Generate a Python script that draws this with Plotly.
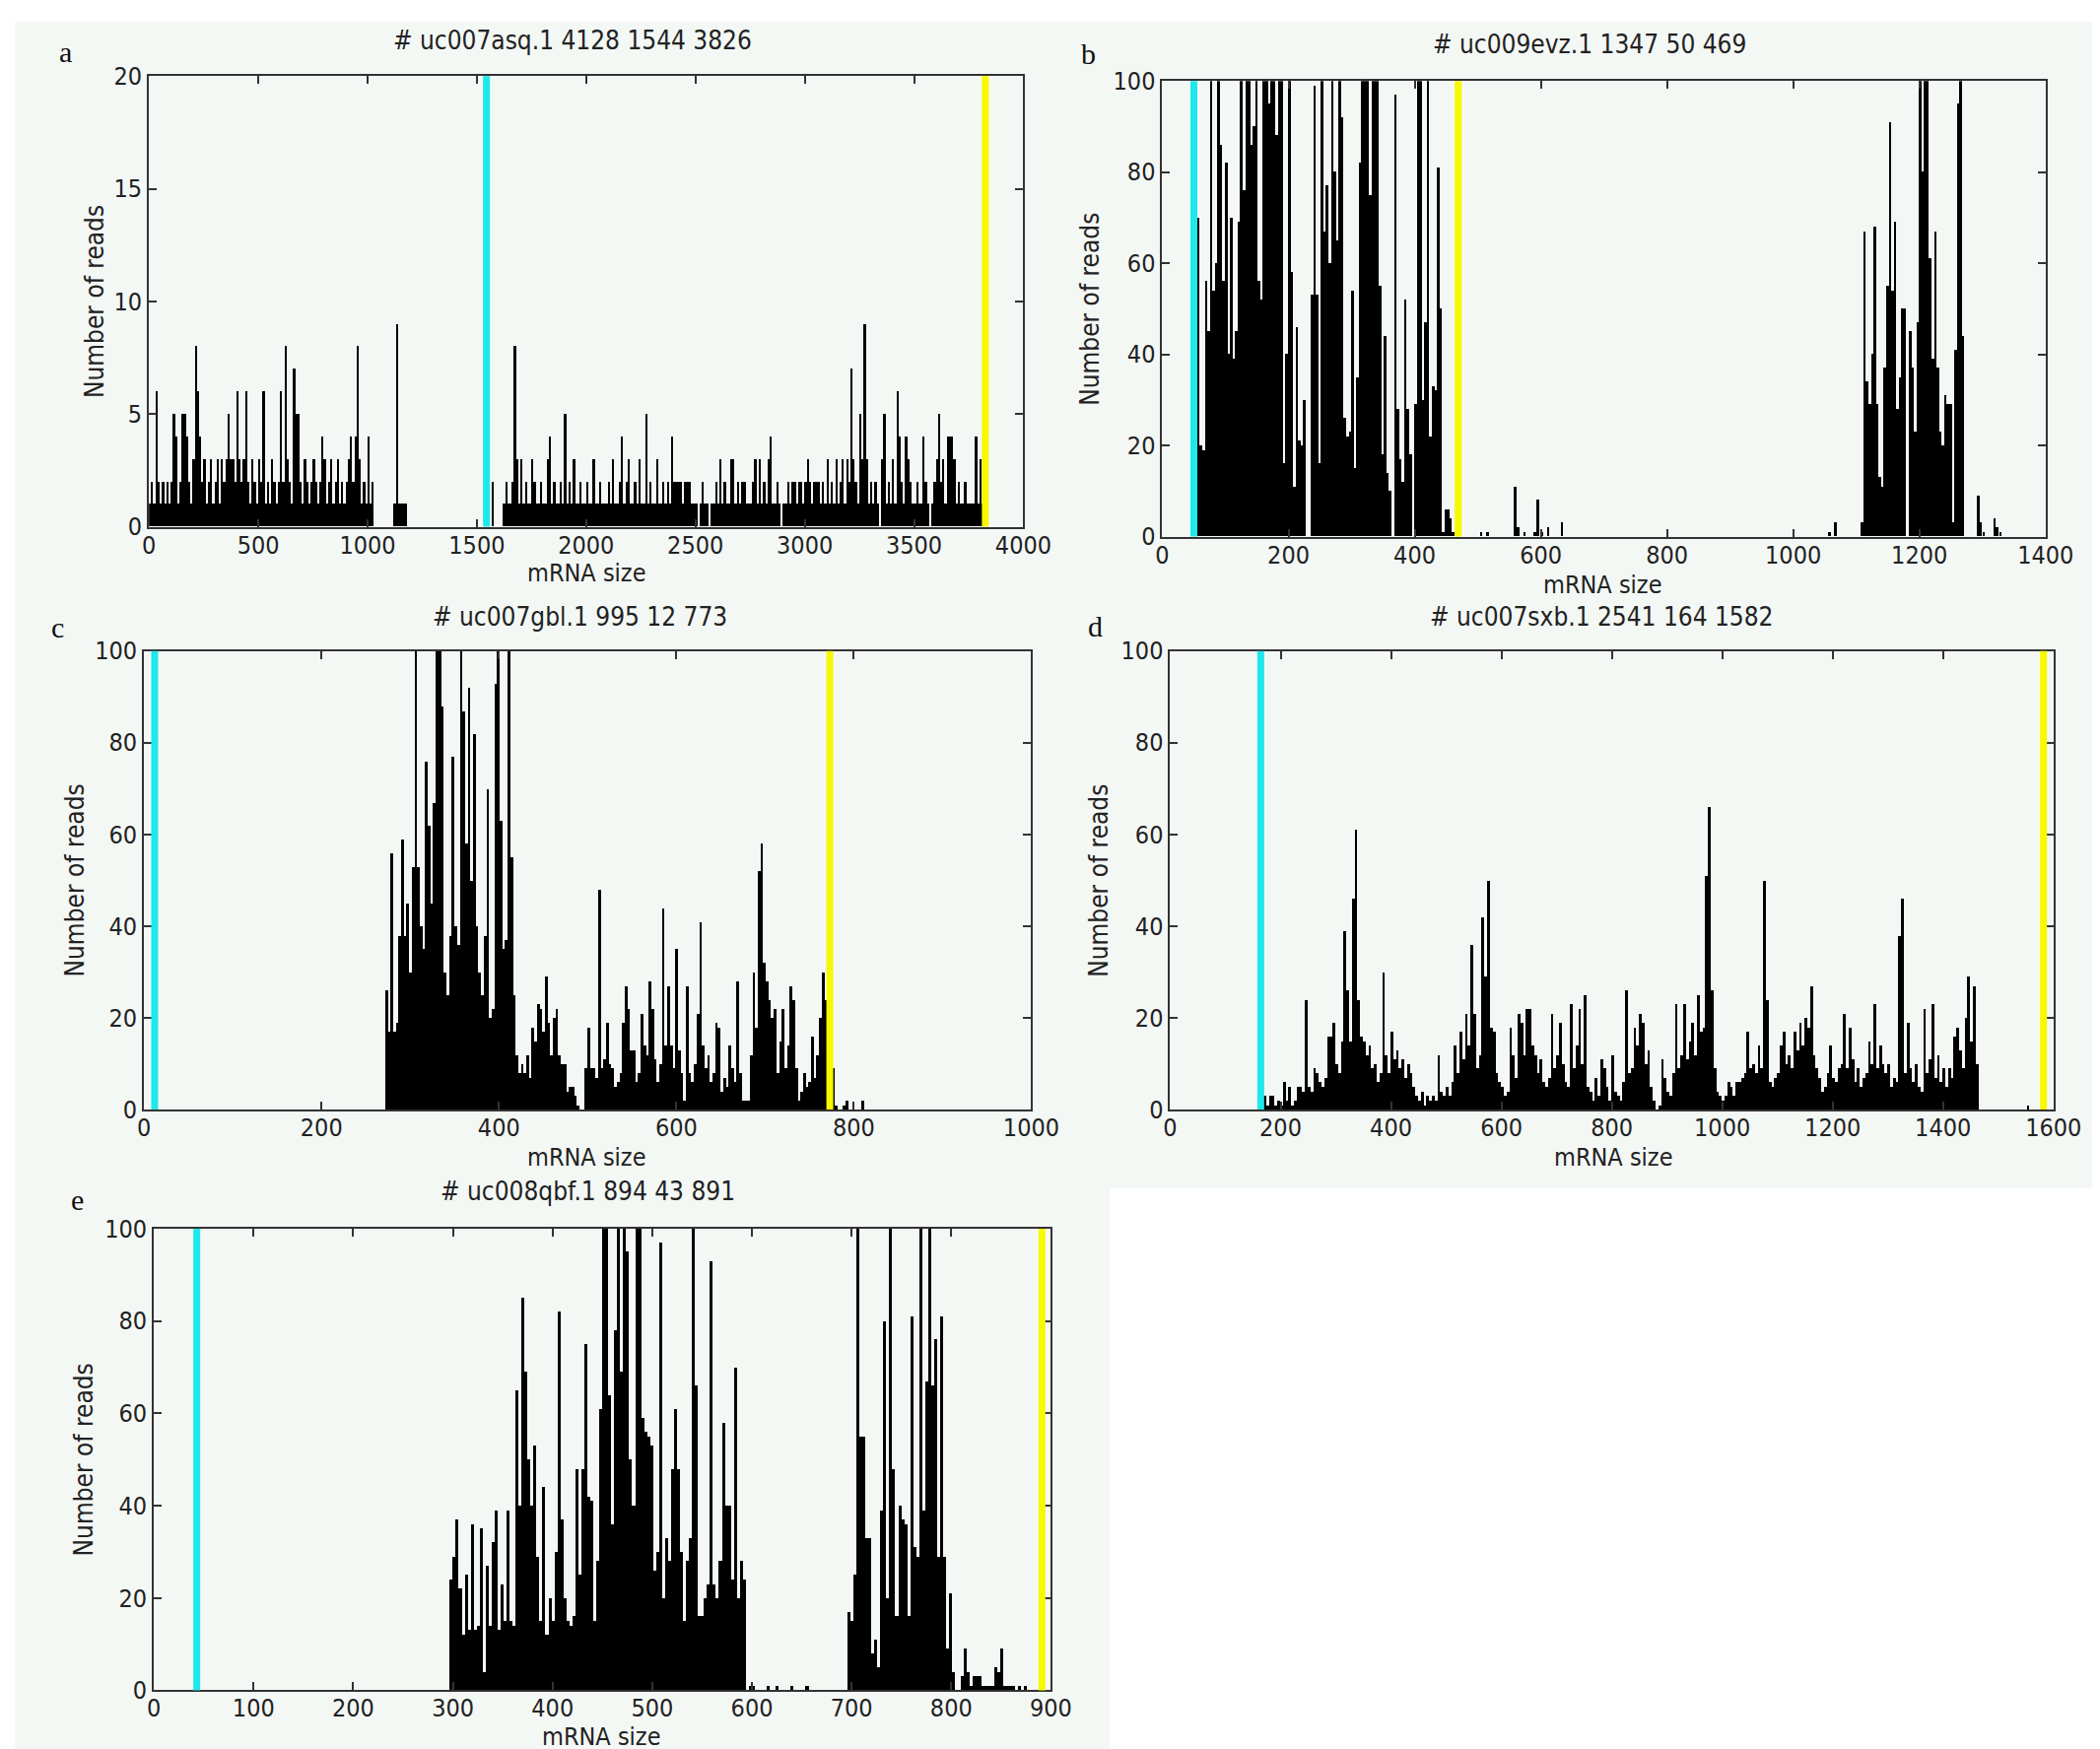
import plotly.graph_objects as go

# ------------------------------------------------------------------
# DATA
# ------------------------------------------------------------------
TITLES = ["# uc007asq.1 4128 1544 3826", "# uc009evz.1 1347 50 469",
          "# uc007gbl.1 995 12 773", "# uc007sxb.1 2541 164 1582",
          "# uc008qbf.1 894 43 891"]
LETTERS = ["a", "b", "c", "d", "e"]
CDS_START = [1544, 50, 12, 164, 43]
CDS_END = [3826, 469, 773, 1582, 891]
X_MAX = [4000, 1400, 1000, 1600, 900]
X_STEP = [500, 200, 200, 200, 100]
Y_MAX = [20, 100, 100, 100, 100]
Y_STEP = [5, 20, 20, 20, 20]

# panel a : reads per 10-nt bin starting at 0
A_START, A_BIN = 0, 10
A_COUNTS = [
    1, 2, 1, 6, 2, 1, 2, 1, 2, 1,
    2, 5, 4, 1, 2, 5, 5, 4, 2, 1,
    3, 8, 6, 4, 2, 3, 1, 2, 3, 1,
    2, 3, 1, 3, 2, 3, 5, 3, 3, 2,
    6, 3, 2, 3, 6, 2, 1, 3, 2, 1,
    3, 2, 6, 1, 2, 1, 3, 2, 1, 2,
    6, 2, 8, 3, 2, 1, 7, 5, 5, 2,
    1, 3, 2, 1, 2, 3, 2, 1, 2, 4,
    3, 1, 2, 3, 1, 2, 3, 1, 2, 1,
    2, 3, 4, 2, 4, 8, 3, 1, 2, 1,
    4, 1, 2, 0, 0, 0, 0, 0, 0, 0,
    0, 0, 1, 9, 1, 1, 1, 1, 0, 0,
    0, 0, 0, 0, 0, 0, 0, 0, 0, 0,
    0, 0, 0, 0, 0, 0, 0, 0, 0, 0,
    0, 0, 0, 0, 0, 0, 0, 0, 0, 0,
    0, 0, 0, 0, 0, 0, 0, 2, 0, 0,
    0, 0, 1, 2, 1, 1, 2, 8, 3, 1,
    3, 1, 2, 1, 1, 3, 2, 1, 1, 2,
    1, 1, 3, 4, 1, 2, 1, 1, 2, 1,
    5, 1, 2, 1, 3, 1, 1, 2, 1, 1,
    2, 1, 1, 3, 1, 1, 2, 1, 1, 1,
    2, 1, 3, 1, 1, 2, 4, 1, 2, 3,
    1, 1, 2, 1, 3, 1, 1, 5, 1, 2,
    1, 1, 3, 1, 1, 2, 1, 2, 1, 4,
    2, 2, 2, 2, 1, 2, 2, 2, 1, 1,
    1, 0, 1, 2, 1, 1, 0, 1, 1, 2,
    1, 3, 1, 2, 1, 1, 3, 3, 1, 2,
    1, 2, 2, 1, 1, 1, 2, 3, 1, 3,
    1, 2, 1, 3, 4, 1, 1, 2, 1, 0,
    1, 1, 2, 1, 2, 2, 1, 2, 2, 1,
    2, 3, 2, 1, 2, 2, 2, 1, 2, 1,
    3, 1, 2, 1, 3, 1, 2, 3, 1, 3,
    2, 7, 3, 2, 1, 5, 3, 9, 3, 1,
    2, 1, 2, 1, 0, 3, 5, 1, 2, 1,
    3, 1, 6, 4, 2, 1, 4, 3, 2, 1,
    1, 2, 1, 1, 4, 2, 1, 0, 1, 2,
    3, 5, 2, 3, 1, 4, 4, 4, 3, 1,
    2, 1, 1, 2, 1, 1, 1, 1, 4, 1,
    3, 1, 1, 0,
]

# panel b : 4-nt bins, two dense blocks plus isolated small peaks
B_BIN = 4
B1_START = 52
B1_COUNTS = [
    33, 70, 20, 19, 56, 45, 100, 54, 60, 100,
    86, 56, 82, 40, 70, 39, 45, 69, 100, 76,
    100, 100, 86, 90, 100, 56, 52, 100, 100, 95,
    100, 100, 88, 100, 100, 16, 40, 100, 58, 11,
    46, 21, 20, 30, 0, 0, 53, 99, 53, 16,
    100, 67, 77, 60, 100, 80, 65, 100, 92, 26,
    22, 23, 54, 15, 35, 82, 100, 100, 100, 75,
    100, 100, 100, 55, 18, 44, 14, 10, 0, 97,
    28, 17, 12, 52, 28, 18, 0, 29, 100, 100,
    30, 47, 100, 22, 33, 32, 81, 50, 1, 6,
    6, 4, 1,
]
B2_START = 1108
B2_COUNTS = [
    3, 67, 34, 29, 40, 68, 29, 13, 11, 37,
    55, 91, 54, 69, 28, 35, 50, 50, 0, 45,
    37, 23, 47, 100, 80, 100, 100, 61, 39, 67,
    37, 23, 20, 31, 29, 29, 3, 41, 95, 100,
    44,
]
B_SPARSE_POS = [506, 516, 560, 565, 575, 591, 596, 602, 612, 634,
                1058, 1068, 1294, 1298, 1303, 1320, 1324, 1329]
B_SPARSE_COUNTS = [1, 1, 11, 2, 1, 1, 8, 1, 2, 3,
                   1, 3, 9, 3, 1, 4, 2, 1]

# panel c : 3-nt bins starting at 272
C_START, C_BIN = 272, 3
C_COUNTS = [
    26, 17, 56, 17, 19, 38, 59, 38, 45, 30,
    53, 100, 53, 40, 35, 76, 62, 45, 67, 100,
    100, 88, 30, 25, 38, 77, 40, 36, 100, 87,
    58, 92, 50, 82, 40, 30, 25, 38, 70, 20,
    22, 93, 100, 63, 35, 37, 100, 55, 25, 12,
    8, 10, 8, 12, 7, 18, 15, 23, 22, 17,
    29, 19, 12, 20, 22, 12, 10, 10, 4, 5,
    5, 3, 1, 0, 0, 9, 18, 9, 9, 7,
    48, 9, 11, 19, 10, 9, 5, 6, 8, 19,
    27, 22, 13, 13, 6, 8, 21, 14, 12, 28,
    22, 11, 6, 10, 44, 14, 27, 14, 9, 35,
    13, 8, 2, 27, 8, 6, 10, 21, 41, 14,
    9, 12, 6, 8, 19, 18, 4, 7, 5, 14,
    9, 6, 28, 8, 2, 2, 2, 12, 30, 18,
    52, 58, 32, 28, 24, 20, 22, 8, 15, 22,
    9, 14, 27, 24, 9, 2, 4, 8, 5, 6,
    16, 7, 12, 20, 30, 24, 10, 8, 9, 1,
    0, 0, 1, 2, 0, 0, 0, 0, 0, 2,
]

# panel d : 5-nt bins starting at 160
D_START, D_BIN = 160, 5
D_COUNTS = [
    1, 0, 3, 1, 3, 3, 1, 2, 1, 6,
    2, 5, 1, 2, 5, 5, 4, 24, 5, 4,
    9, 8, 6, 5, 7, 16, 16, 19, 10, 8,
    15, 39, 26, 15, 46, 61, 24, 16, 15, 12,
    14, 9, 10, 6, 8, 30, 12, 8, 17, 11,
    13, 9, 11, 7, 10, 8, 5, 3, 2, 4,
    1, 3, 2, 3, 2, 12, 4, 3, 5, 3,
    6, 14, 8, 17, 11, 21, 14, 36, 21, 9,
    12, 42, 29, 50, 18, 17, 8, 6, 5, 3,
    4, 18, 12, 7, 21, 19, 12, 22, 22, 14,
    12, 8, 11, 6, 5, 7, 21, 9, 12, 19,
    10, 6, 5, 23, 9, 14, 22, 10, 25, 5,
    4, 2, 7, 3, 11, 9, 5, 2, 12, 4,
    3, 2, 6, 26, 8, 9, 18, 14, 21, 19,
    10, 13, 5, 2, 0, 1, 11, 7, 4, 3,
    8, 23, 9, 12, 23, 11, 15, 19, 12, 25,
    17, 18, 51, 66, 26, 9, 4, 3, 2, 3,
    6, 5, 3, 6, 6, 7, 8, 17, 9, 10,
    8, 14, 9, 50, 24, 6, 5, 7, 8, 14,
    17, 10, 12, 9, 17, 13, 19, 14, 20, 18,
    27, 12, 9, 7, 4, 5, 8, 14, 7, 6,
    9, 10, 21, 9, 18, 11, 6, 9, 5, 7,
    8, 15, 10, 23, 9, 14, 10, 8, 10, 5,
    7, 6, 38, 46, 8, 19, 9, 6, 10, 5,
    4, 22, 8, 11, 23, 7, 12, 6, 9, 5,
    9, 7, 16, 18, 13, 9, 20, 29, 15, 27,
    10,
]
D_SPARSE_POS = [1555]
D_SPARSE_COUNTS = [1]

# panel e : 3-nt bins starting at 297
E_START, E_BIN = 297, 3
E_COUNTS = [
    24, 29, 37, 22, 12, 25, 13, 36, 13, 14,
    35, 4, 27, 14, 32, 39, 13, 23, 15, 39,
    15, 14, 65, 40, 85, 69, 50, 40, 53, 29,
    15, 44, 12, 20, 15, 30, 82, 37, 20, 15,
    14, 16, 48, 25, 48, 75, 42, 41, 15, 28,
    61, 100, 100, 64, 36, 78, 100, 69, 100, 95,
    50, 40, 100, 100, 59, 56, 55, 53, 26, 30,
    97, 20, 33, 28, 48, 61, 48, 30, 15, 28,
    33, 100, 66, 16, 16, 20, 23, 93, 23, 20,
    28, 58, 40, 40, 24, 70, 20, 28, 24, 0,
    1, 1, 0, 0, 0, 0, 1, 0, 0, 1,
    0, 0, 0, 0, 1, 0, 0, 0, 0, 1,
    0, 0, 0, 0, 0, 0, 0, 0, 0, 0,
    0, 0, 0, 17, 15, 25, 100, 55, 55, 33,
    33, 8, 11, 5, 39, 80, 20, 100, 48, 16,
    40, 37, 36, 16, 81, 31, 29, 100, 39, 67,
    100, 66, 76, 29, 81, 29, 9, 21, 4, 0,
    0, 3, 9, 4, 1, 3, 3, 3, 1, 1,
    1, 1, 5, 4, 9, 1, 1, 1, 1, 0,
    1, 0, 1,
]

# ------------------------------------------------------------------
# LAYOUT / STYLE
# ------------------------------------------------------------------
PAGE_MARGIN = 8                     # default <body> margin of the html page
CAP_SCALE = 0.983                   # observed page -> picture scaling
CAP_OFF_X, CAP_OFF_Y = 6, 14        # observed page -> picture offset
W, H = 2155, 1785
BG = "#f4f8f5"
CYAN = "#1fe8ea"
YELLOW = "#f8f800"
TXT = "#222222"
FONT = "DejaVu Sans Condensed, Liberation Sans Narrow, DejaVu Sans, sans-serif"
SERIF = "Liberation Serif, DejaVu Serif, serif"

# positions below are pixels of the reference picture
BOXES = [(150, 1037, 77, 534), (1178, 2074, 82, 544),
         (145, 1045, 660, 1125), (1186, 2082, 660, 1125),
         (155, 1065, 1246, 1714)]
TITLE_POS = [(580, 41), (1611, 45), (587, 625), (1624, 625), (595, 1208)]
XLAB_POS = [(594, 581), (1625, 593), (594, 1173), (1636, 1173), (609, 1761)]
YLAB_X = [95, 1105, 75, 1114, 84]
LETTER_POS = [(65, 52), (1103, 54), (57, 636), (1110, 635), (77, 1216)]


def fx(r):
    p = (r - CAP_OFF_X) / CAP_SCALE - PAGE_MARGIN
    return min(max(p / W, 0), 1)


def fy(r):
    p = (r - CAP_OFF_Y) / CAP_SCALE - PAGE_MARGIN
    return min(max(1 - p / H, 0), 1)


def bins(start, width, counts):
    xs = [start + width * (k + 0.5) for k in range(len(counts))]
    return xs, counts


SERIES = [
    [(A_START, A_BIN, A_COUNTS)],
    [(B1_START, B_BIN, B1_COUNTS), (B2_START, B_BIN, B2_COUNTS)],
    [(C_START, C_BIN, C_COUNTS)],
    [(D_START, D_BIN, D_COUNTS)],
    [(E_START, E_BIN, E_COUNTS)],
]
SPARSE = [None, (B_SPARSE_POS, B_SPARSE_COUNTS, B_BIN), None,
          (D_SPARSE_POS, D_SPARSE_COUNTS, D_BIN), None]

fig = go.Figure()
shapes = []
annotations = []

# background regions (white strip on top, white lower-right corner)
shapes.append(dict(type="rect", xref="paper", yref="paper", x0=0, x1=1,
                   y0=fy(1205), y1=fy(14), fillcolor=BG, line_width=0, layer="below"))
shapes.append(dict(type="rect", xref="paper", yref="paper", x0=0, x1=fx(1125),
                   y0=0, y1=fy(1200), fillcolor=BG, line_width=0, layer="below"))

for i in range(5):
    sfx = "" if i == 0 else str(i + 1)
    xa, ya = "x" + sfx, "y" + sfx
    left, right, top, bottom = BOXES[i]

    for start, width, counts in SERIES[i]:
        xs, ys = bins(start, width, counts)
        fig.add_trace(go.Bar(x=xs, y=ys, width=width, xaxis=xa, yaxis=ya,
                             marker=dict(color="black", line=dict(width=0)),
                             showlegend=False, hoverinfo="skip"))
    if SPARSE[i] is not None:
        pos, cnt, width = SPARSE[i]
        fig.add_trace(go.Bar(x=pos, y=cnt, width=width, xaxis=xa, yaxis=ya,
                             marker=dict(color="black", line=dict(width=0)),
                             showlegend=False, hoverinfo="skip"))

    axis_common = dict(showline=True, linewidth=2, linecolor="#333333", mirror="ticks",
                       ticks="inside", ticklen=8, tickwidth=1.5, tickcolor="#333333",
                       showgrid=False, zeroline=False,
                       tickfont=dict(family=FONT, size=25, color=TXT))
    fig.layout["xaxis" + sfx] = dict(
        domain=[fx(left), fx(right)], anchor=ya, range=[0, X_MAX[i]],
        tickmode="linear", tick0=0, dtick=X_STEP[i], ticklabelstandoff=-5,
        **axis_common)
    fig.layout["yaxis" + sfx] = dict(
        domain=[fy(bottom), fy(top)], anchor=xa, range=[0, Y_MAX[i]],
        tickmode="linear", tick0=0, dtick=Y_STEP[i], **axis_common)

    # CDS start / end markers
    shapes.append(dict(type="line", xref=xa, yref=ya + " domain",
                       x0=CDS_START[i], x1=CDS_START[i], y0=0, y1=1,
                       line=dict(color=CYAN, width=7), layer="above"))
    shapes.append(dict(type="line", xref=xa, yref=ya + " domain",
                       x0=CDS_END[i], x1=CDS_END[i], y0=0, y1=1,
                       line=dict(color=YELLOW, width=7), layer="above"))

    tx, ty = TITLE_POS[i]
    annotations.append(dict(text=TITLES[i], xref="paper", yref="paper",
                            x=fx(tx), y=fy(ty), xanchor="center", yanchor="middle",
                            showarrow=False, font=dict(family=FONT, size=26, color=TXT)))
    lx, ly = XLAB_POS[i]
    annotations.append(dict(text="mRNA size", xref="paper", yref="paper",
                            x=fx(lx), y=fy(ly), xanchor="center", yanchor="middle",
                            showarrow=False, font=dict(family=FONT, size=25, color=TXT)))
    annotations.append(dict(text="Number of reads", xref="paper", yref="paper",
                            x=fx(YLAB_X[i]), y=fy((top + bottom) / 2),
                            xanchor="center", yanchor="middle", textangle=-90,
                            showarrow=False, font=dict(family=FONT, size=26, color=TXT)))
    px_, py_ = LETTER_POS[i]
    annotations.append(dict(text=LETTERS[i], xref="paper", yref="paper",
                            x=fx(px_), y=fy(py_), xanchor="center", yanchor="middle",
                            showarrow=False, font=dict(family=SERIF, size=30, color="#111111")))

fig.update_layout(width=W, height=H, margin=dict(l=0, r=0, t=0, b=0),
                  paper_bgcolor="white", plot_bgcolor=BG, barmode="overlay",
                  bargap=0, shapes=shapes, annotations=annotations)

fig.write_html("out.html")
